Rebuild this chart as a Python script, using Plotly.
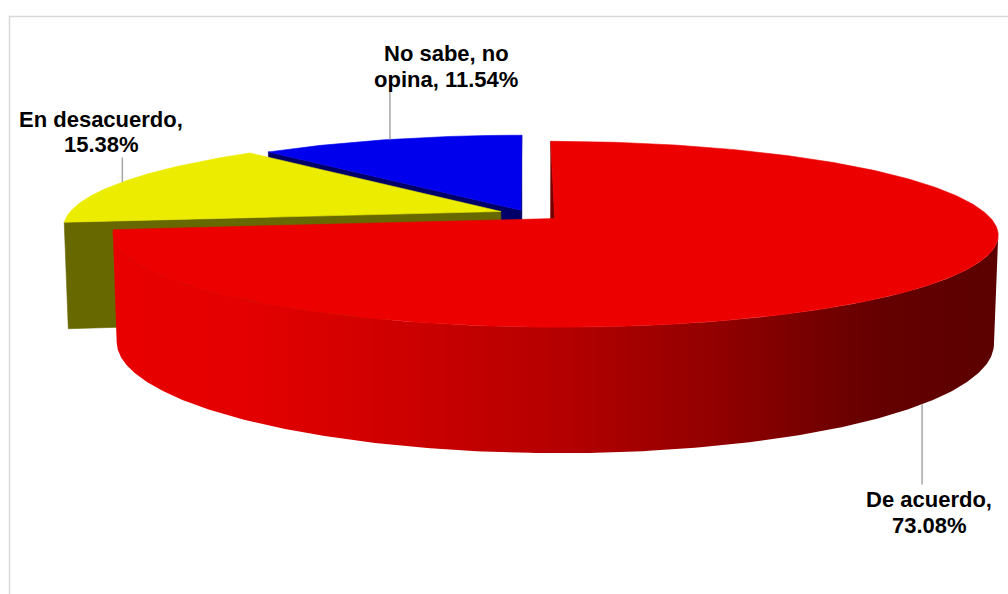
import textwrap
import numpy as np
import plotly.graph_objects as go

# Survey answers and their shares (%)
categories = ["De acuerdo", "En desacuerdo", "No sabe, no opina"]
shares = [73.08, 15.38, 11.54]

# Slice styling
top_colors = ["rgb(236,0,0)", "rgb(236,236,0)", "rgb(0,0,236)"]
wall_colors = ["rgb(118,0,0)", "rgb(104,104,0)", "rgb(0,0,104)"]
side_scales = [
    [[0.0, "rgb(232,0,0)"], [0.15, "rgb(228,0,0)"], [0.32, "rgb(206,0,0)"],
     [0.51, "rgb(180,0,0)"], [0.685, "rgb(145,0,0)"], [0.776, "rgb(122,0,0)"],
     [0.867, "rgb(100,0,0)"], [1.0, "rgb(92,0,0)"]],
    [[0.0, "rgb(110,110,0)"], [1.0, "rgb(96,96,0)"]],
    [[0.0, "rgb(0,0,110)"], [1.0, "rgb(0,0,96)"]],
]
explode = [0.085, 0.065, 0.04]          # radial offset of each slice (radius units)
label_side = ["below", "above", "above"]
label_xy = [(929, 499.5), (101, 119), (446, 53.5)]   # centre x, first-line middle y
LINE_GAP = 25.5
FONT = dict(family="Liberation Sans, Arial, sans-serif", size=22, color="black", weight="bold")

# Simple pinhole camera looking down at the pie
TILT = np.radians(11.83)
SIN_T, COS_T = np.sin(TILT), np.cos(TILT)
CAM_DIST = 5.841
FOCAL = 2524.0
CX, CY = 527.0, 213.5
THICK = 0.25
CAM = np.array([0.0, -CAM_DIST * COS_T, CAM_DIST * SIN_T])


def project(x, d, h):
    x, d, h = np.asarray(x, float), np.asarray(d, float), np.asarray(h, float)
    w = CAM_DIST + d * COS_T - h * SIN_T
    v = d * SIN_T + h * COS_T
    return CX + FOCAL * x / w, CY - FOCAL * v / w


def polygon(xs, ds, hs, **style):
    px, py = project(xs, ds, hs)
    px = np.append(px, px[0])
    py = np.append(py, py[0])
    return go.Scatter(x=px, y=py, mode="lines", fill="toself", hoverinfo="skip",
                      showlegend=False, **style)


# slice angles, clockwise from 12 o'clock
bounds = np.concatenate([[0.0], np.cumsum(shares)]) / np.sum(shares) * 2 * np.pi

fig = go.Figure()

order = sorted(range(len(shares)),
               key=lambda i: -np.cos((bounds[i] + bounds[i + 1]) / 2))

for i in order:
    a0, a1 = bounds[i], bounds[i + 1]
    mid = (a0 + a1) / 2
    ox, od = explode[i] * np.sin(mid), explode[i] * np.cos(mid)
    flat = dict(fillcolor=top_colors[i], line=dict(color=top_colors[i], width=0.6))
    wall = dict(fillcolor=wall_colors[i], line=dict(color=wall_colors[i], width=0.6))

    # radial walls
    for ang, nang in ((a0, a0 - np.pi / 2), (a1, a1 + np.pi / 2)):
        n = np.array([np.sin(nang), np.cos(nang), 0.0])
        if np.dot(CAM - np.array([ox, od, 0.0]), n) > 0:
            rx, rd = ox + np.sin(ang), od + np.cos(ang)
            fig.add_trace(polygon([ox, rx, rx, ox], [od, rd, rd, od],
                                  [0, 0, -THICK, -THICK], **wall))

    # curved outer side, only the part facing the camera
    arc = np.linspace(a0, a1, 400)
    vis = -1 - ox * np.sin(arc) - (CAM_DIST * COS_T + od) * np.cos(arc) > 0
    idx = np.flatnonzero(vis)
    if idx.size:
        runs = np.split(idx, np.flatnonzero(np.diff(idx) > 1) + 1)
        for run in runs:
            if run.size < 2:
                continue
            ang = arc[run]
            rx, rd = ox + np.sin(ang), od + np.cos(ang)
            xs = np.concatenate([rx, rx[::-1]])
            ds = np.concatenate([rd, rd[::-1]])
            hs = np.concatenate([np.zeros_like(rx), np.full_like(rx, -THICK)])
            fig.add_trace(polygon(xs, ds, hs,
                                  fillgradient=dict(type="horizontal",
                                                    colorscale=side_scales[i]),
                                  line=dict(width=0)))

    # top face
    arc = np.linspace(a0, a1, 400)
    xs = np.concatenate([[ox], ox + np.sin(arc)])
    ds = np.concatenate([[od], od + np.cos(arc)])
    fig.add_trace(polygon(xs, ds, np.zeros_like(xs), **flat))

# data labels with leader lines
for i, name in enumerate(categories):
    text = f"{name}, {shares[i]:.2f}%"
    lines = textwrap.wrap(text, 14)
    lx, ly = label_xy[i]
    for k, ln in enumerate(lines):
        fig.add_annotation(x=lx, y=ly + k * LINE_GAP, text=ln, showarrow=False,
                           xref="x", yref="y", xanchor="center", yanchor="middle",
                           font=FONT)
    mid = (bounds[i] + bounds[i + 1]) / 2
    ox, od = explode[i] * np.sin(mid), explode[i] * np.cos(mid)
    h = -THICK if label_side[i] == "below" else 0.0
    rx, ry = project(ox + np.sin(mid), od + np.cos(mid), h)
    if label_side[i] == "below":
        ey = ly - 15
    else:
        ey = ly + (len(lines) - 1) * LINE_GAP + 13
    fig.add_trace(go.Scatter(x=[float(rx), float(rx)], y=[float(ry), ey], mode="lines",
                             line=dict(color="rgb(166,166,166)", width=1.5),
                             hoverinfo="skip", showlegend=False))

# chart-area border
fig.add_shape(type="rect", x0=9.5, y0=16.5, x1=1040, y1=640, xref="x", yref="y",
              line=dict(color="rgb(217,217,217)", width=1.5), layer="below")

fig.update_layout(
    width=1008, height=594,
    margin=dict(l=0, r=0, t=0, b=0),
    paper_bgcolor="white", plot_bgcolor="white",
    xaxis=dict(range=[0, 1008], visible=False, fixedrange=True),
    yaxis=dict(range=[594, 0], visible=False, fixedrange=True),
)

fig.write_html("out.html", config={"displayModeBar": False})
